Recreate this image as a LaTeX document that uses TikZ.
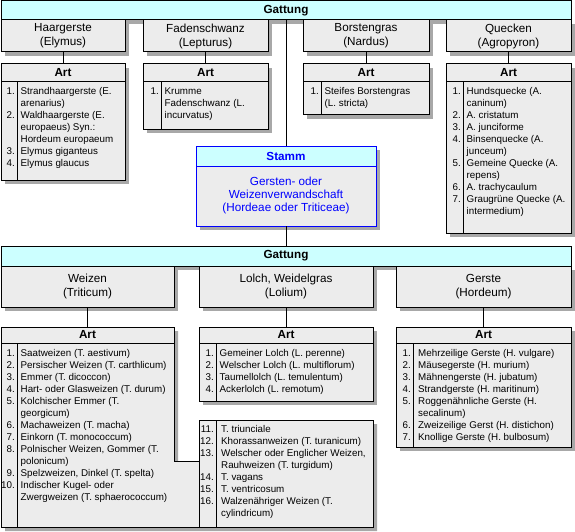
\documentclass[tikz,border=0pt]{standalone}
\usepackage{fontspec}
\setmainfont{Liberation Sans}
\usetikzlibrary{shadows,calc}
\definecolor{boxfill}{HTML}{ECECEC}
\definecolor{hdrfill}{HTML}{CCFFFF}
\definecolor{shadowc}{HTML}{A8A8A8}
\definecolor{stammblue}{HTML}{0000FF}
\tikzset{
  shd/.style={drop shadow={shadow xshift=4pt, shadow yshift=-4pt, fill=shadowc, opacity=1}},
  box/.style={draw=black, line width=1pt, fill=boxfill, inner sep=0pt, outer sep=0pt, anchor=north west},
  genus/.style={box, shd, align=center, font=\fontsize{11.7}{14}\selectfont},
  bar/.style={draw=black, line width=1pt, fill=hdrfill, inner sep=0pt, outer sep=0pt, anchor=north west, font=\bfseries\fontsize{11.7}{14}\selectfont},
  arthead/.style={draw=black, line width=1pt, inner sep=0pt, outer sep=0pt, anchor=north west, font=\bfseries\fontsize{11.7}{14}\selectfont},
  nums/.style={anchor=north east, inner sep=0pt, align=right, font=\fontsize{9.8}{12}\selectfont},
  items/.style={anchor=north west, inner sep=0pt, align=left, font=\fontsize{9.8}{12}\selectfont},
  conn/.style={draw=black, line width=1pt},
  barshadow/.style={fill=shadowc},
}
\begin{document}
\begin{tikzpicture}[x=1pt,y=-1pt]
\useasboundingbox (0,0) rectangle (575,532);

% ---------- upper Gattung bar ----------
\node[bar, minimum width=570pt, minimum height=19pt] (gattA) at (1,1) {Gattung};
\fill[barshadow] ($(gattA.south west)+(4pt,-0.5pt)$) rectangle ($(gattA.south east)+(0pt,-4pt)$);

% ---------- upper genus boxes ----------
\node[genus, minimum width=124pt, minimum height=32pt] (hg) at (1,20) {Haargerste\\(Elymus)};
\node[genus, minimum width=125pt, minimum height=32pt] (fs) at (143,20) {Fadenschwanz\\(Lepturus)};
\node[genus, minimum width=126pt, minimum height=32pt] (bg) at (303,20) {Borstengras\\(Nardus)};
\node[genus, minimum width=125pt, minimum height=32pt] (qu) at (446,20) {Quecken\\(Agropyron)};

% ---------- upper Art boxes ----------
\node[box, shd, minimum width=124pt, minimum height=116pt] (hgart) at (1,64) {};
\node[arthead, minimum width=124pt, minimum height=18pt] (hgarthd) at (1,64) {Art};
\draw[conn] ([xshift=16pt]hgarthd.south west) -- ([xshift=16pt]hgart.south west);
\node[nums] (hgnum) at (15,86) {\strut 1.\\\mbox{}\\2.\\\mbox{}\\\mbox{}\\3.\\4.};
\node[items] (hgtxt) at (20.5,86) {\strut Strandhaargerste (E.\\arenarius)\\Waldhaargerste (E.\\europaeus) Syn.:\\Hordeum europaeum\\Elymus giganteus\\Elymus glaucus};

\node[box, shd, minimum width=125pt, minimum height=65pt] (fsart) at (143,64) {};
\node[arthead, minimum width=125pt, minimum height=18pt] (fsarthd) at (143,64) {Art};
\draw[conn] ([xshift=18pt]fsarthd.south west) -- ([xshift=18pt]fsart.south west);
\node[nums] (fsnum) at (159,86) {\strut 1.};
\node[items] (fstxt) at (164.5,86) {\strut Krumme\\Fadenschwanz (L.\\incurvatus)};

\node[box, shd, minimum width=126pt, minimum height=51pt] (bgart) at (303,64) {};
\node[arthead, minimum width=126pt, minimum height=18pt] (bgarthd) at (303,64) {Art};
\draw[conn] ([xshift=18pt]bgarthd.south west) -- ([xshift=18pt]bgart.south west);
\node[nums] (bgnum) at (319,86) {\strut 1.};
\node[items] (bgtxt) at (324.5,86) {\strut Steifes Borstengras\\(L. stricta)};

\node[box, shd, minimum width=125pt, minimum height=169pt] (quart) at (446,64) {};
\node[arthead, minimum width=125pt, minimum height=18pt] (quarthd) at (446,64) {Art};
\draw[conn] ([xshift=17pt]quarthd.south west) -- ([xshift=17pt]quart.south west);
\node[nums] (qunum) at (461,86) {\strut 1.\\\mbox{}\\2.\\3.\\4.\\\mbox{}\\5.\\\mbox{}\\6.\\7.};
\node[items] (qutxt) at (466.5,86) {\strut Hundsquecke (A.\\caninum)\\A. cristatum\\A. junciforme\\Binsenquecke (A.\\junceum)\\Gemeine Quecke (A.\\repens)\\A. trachycaulum\\Graugrüne Quecke (A.\\intermedium)};

% ---------- Stamm ----------
\node[box, shd, draw=stammblue, minimum width=180pt, minimum height=80pt] (stamm) at (196,146) {};
\node[arthead, draw=stammblue, fill=hdrfill, text=stammblue, minimum width=180pt, minimum height=20pt] (stammhd) at (196,146) {Stamm};
\node[inner sep=0pt, align=center, text=stammblue, font=\fontsize{11.7}{13.3}\selectfont] (stammtxt) at (286,195.5) {Gersten- oder\\Weizenverwandschaft\\(Hordeae oder Triticeae)};

% ---------- lower Gattung bar ----------
\node[bar, minimum width=570pt, minimum height=20pt] (gattB) at (1,246) {Gattung};
\fill[barshadow] ($(gattB.south west)+(4pt,-0.5pt)$) rectangle ($(gattB.south east)+(0pt,-4pt)$);

% ---------- lower genus boxes ----------
\node[genus, minimum width=173pt, minimum height=41pt] (wz) at (1,266) {Weizen\\(Triticum)};
\node[genus, minimum width=174pt, minimum height=41pt] (lo) at (199,266) {Lolch, Weidelgras\\(Lolium)};
\node[genus, minimum width=175pt, minimum height=41pt] (ge) at (396,266) {Gerste\\(Hordeum)};

% ---------- wheat Art (composite) ----------
\fill[shadowc, shift={(4pt,-4pt)}] (1,327) -- (174,327) -- (174,461) -- (199,461) -- (199,420) -- (373,420) -- (373,527) -- (1,527) -- cycle;
\draw[conn, fill=boxfill] (1,327) -- (174,327) -- (174,461) -- (199,461) -- (199,420) -- (373,420) -- (373,527) -- (1,527) -- cycle;
\node[box, fill=none, minimum width=174pt, minimum height=107pt] (wzart2) at (199,420) {};
\node[arthead, minimum width=173pt, minimum height=16pt] (wzarthd) at (1,327) {Art};
\draw[conn] ([xshift=16pt]wzarthd.south west) -- (17,527);
\draw[conn] ([xshift=17pt]wzart2.north west) -- ([xshift=17pt]wzart2.south west);
\node[nums] (wznum) at (15,347.5) {\strut 1.\\2.\\3.\\4.\\5.\\\mbox{}\\6.\\7.\\8.\\\mbox{}\\9.\\10.};
\node[items] (wztxt) at (20.5,347.5) {\strut Saatweizen (T. aestivum)\\Persischer Weizen (T. carthlicum)\\Emmer (T. dicoccon)\\Hart- oder Glasweizen (T. durum)\\Kolchischer Emmer (T.\\georgicum)\\Machaweizen (T. macha)\\Einkorn (T. monococcum)\\Polnischer Weizen, Gommer (T.\\polonicum)\\Spelzweizen, Dinkel (T. spelta)\\Indischer Kugel- oder\\Zwergweizen (T. sphaerococcum)};
\node[nums] (wznum2) at (214,423.5) {\strut 11.\\12.\\13.\\\mbox{}\\14.\\15.\\16.};
\node[items] (wztxt2) at (221,423.5) {\strut T. triunciale\\Khorassanweizen (T. turanicum)\\Welscher oder Englicher Weizen,\\Rauhweizen (T. turgidum)\\T. vagans\\T. ventricosum\\Walzenähriger Weizen (T.\\cylindricum)};

% ---------- Lolch Art ----------
\node[box, shd, minimum width=174pt, minimum height=74pt] (loart) at (199,327) {};
\node[arthead, minimum width=174pt, minimum height=16pt] (loarthd) at (199,327) {Art};
\draw[conn] ([xshift=17pt]loarthd.south west) -- ([xshift=17pt]loart.south west);
\node[nums] (lonum) at (214,347.5) {\strut 1.\\2.\\3.\\4.};
\node[items] (lotxt) at (219.5,347.5) {\strut Gemeiner Lolch (L. perenne)\\Welscher Lolch (L. multiflorum)\\Taumellolch (L. temulentum)\\Ackerlolch (L. remotum)};

% ---------- Gerste Art ----------
\node[box, shd, minimum width=175pt, minimum height=120pt] (geart) at (396,327) {};
\node[arthead, minimum width=175pt, minimum height=16pt] (gearthd) at (396,327) {Art};
\draw[conn] ([xshift=17pt]gearthd.south west) -- ([xshift=17pt]geart.south west);
\node[nums] (genum) at (411,347.5) {\strut 1.\\2.\\3.\\4.\\5.\\\mbox{}\\6.\\7.};
\node[items] (getxt) at (418,347.5) {\strut Mehrzeilige Gerste (H. vulgare)\\Mäusegerste (H. murium)\\Mähnengerste (H. jubatum)\\Strandgerste (H. maritinum)\\Roggenähnliche Gerste (H.\\secalinum)\\Zweizeilige Gerst (H. distichon)\\Knollige Gerste (H. bulbosum)};

% ---------- connectors ----------
\draw[conn] (hg.south) -- (hgarthd.north);
\draw[conn] (fs.south) -- (fsarthd.north);
\draw[conn] (bg.south) -- (bgarthd.north);
\draw[conn] (qu.south) -- (quarthd.north);
\draw[conn] (gattA.south) -- (stamm.north);
\draw[conn] (stamm.south) -- (gattB.north);
\draw[conn] (wz.south) -- (wzarthd.north);
\draw[conn] (lo.south) -- (loarthd.north);
\draw[conn] (ge.south) -- (gearthd.north);
\end{tikzpicture}
\end{document}
